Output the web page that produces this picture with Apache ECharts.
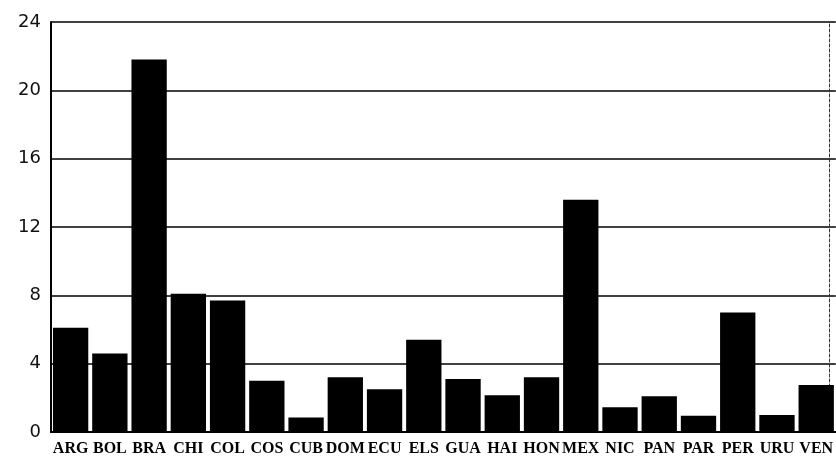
<!DOCTYPE html>
<html>
<head>
<meta charset="utf-8">
<script src="https://cdn.jsdelivr.net/npm/echarts@6/dist/echarts.min.js"></script>
<style>html,body{margin:0;padding:0;background:#fff;}#c{width:836px;height:468px;}</style>
</head>
<body>
<div id="c"></div>
<script>
const categories = ["ARG","BOL","BRA","CHI","COL","COS","CUB","DOM","ECU","ELS","GUA","HAI","HON","MEX","NIC","PAN","PAR","PER","URU","VEN"];
const values = [6.1, 4.6, 21.8, 8.1, 7.7, 3.0, 0.85, 3.2, 2.5, 5.4, 3.1, 2.15, 3.2, 13.6, 1.45, 2.1, 0.95, 7.0, 1.0, 2.75];
const yTicks = {min: 0, max: 24, interval: 4};

const chart = echarts.init(document.getElementById('c'), null, {renderer: 'canvas'});
chart.setOption({
  animation: false,
  backgroundColor: '#ffffff',
  grid: {left: 51, right: -4, top: 22, bottom: 36, containLabel: false},
  xAxis: {
    type: 'category',
    data: categories,
    axisLine: {lineStyle: {color: '#000', width: 2}},
    axisTick: {show: false},
    axisLabel: {
      color: '#000', fontFamily: '"Liberation Serif",serif',
      fontWeight: 'bold', fontSize: 16, margin: 9, interval: 0
    }
  },
  yAxis: [{
    type: 'value',
    min: yTicks.min, max: yTicks.max, interval: yTicks.interval,
    axisLine: {show: true, lineStyle: {color: '#000', width: 2}},
    axisTick: {show: false},
    axisLabel: {color: '#111', fontFamily: '"DejaVu Sans",sans-serif', fontSize: 18, margin: 10},
    splitLine: {show: true, lineStyle: {color: '#000', width: 1.5}}
  }, {
    type: 'value', position: 'right', offset: -7,
    min: yTicks.min, max: yTicks.max, interval: yTicks.interval,
    axisLine: {show: true, lineStyle: {color: '#333', width: 1, type: [3, 2]}},
    axisTick: {show: false}, axisLabel: {show: false}, splitLine: {show: false}
  }],
  series: [{
    type: 'bar',
    data: values,
    barCategoryGap: '10%',
    itemStyle: {color: '#000'}
  }]
});
</script>
</body>
</html>
